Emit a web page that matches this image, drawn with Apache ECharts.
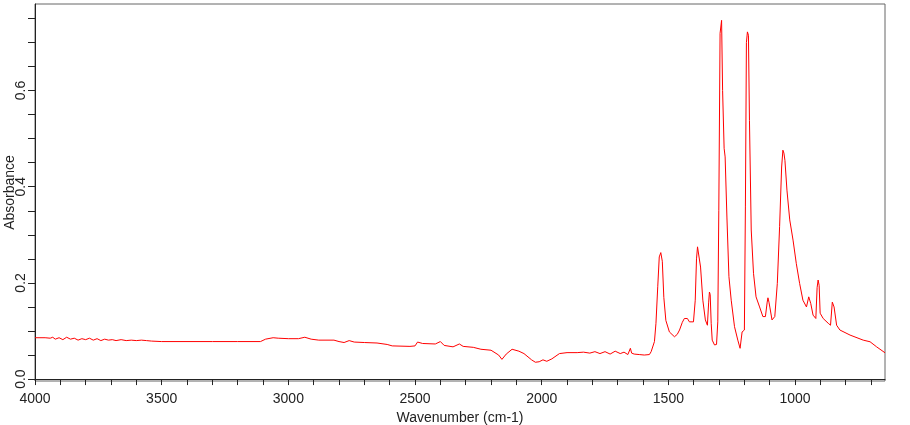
<!DOCTYPE html>
<html lang="en" style="height: 100%">
<head>
    <meta charset="UTF-8">
    <title>Absorbance spectrum</title>
    <script src="https://cdn.jsdelivr.net/npm/echarts@6/dist/echarts.min.js"></script>
</head>
<body style="height: 100%; margin: 0">
<div id="main" style="width: 910px; height: 425px"></div>
<script>
    // wavenumber (cm-1) and absorbance
    var wavenumber = [
        4000, 3960, 3940, 3930, 3920, 3905, 3890, 3875, 3860, 3845, 3830, 3815, 3800, 3785, 3770, 3755,
        3740, 3725, 3710, 3695, 3680, 3660, 3640, 3620, 3600, 3580, 3560, 3540, 3500, 3400, 3300, 3200,
        3110, 3090, 3060, 3040, 3000, 2960, 2935, 2910, 2880, 2820, 2800, 2780, 2760, 2740, 2700, 2650,
        2610, 2590, 2520, 2500, 2490, 2470, 2420, 2400, 2385, 2350, 2325, 2310, 2270, 2240, 2200, 2170,
        2157, 2140, 2117, 2090, 2070, 2040, 2025, 2010, 1995, 1980, 1960, 1930, 1900, 1860, 1835, 1810,
        1790, 1770, 1750, 1730, 1710, 1690, 1675, 1660, 1650, 1645, 1635, 1615, 1595, 1575, 1568, 1555,
        1549, 1542, 1536, 1530, 1524, 1518, 1510, 1496, 1476, 1465, 1456, 1445, 1437, 1425, 1417, 1401,
        1394, 1389, 1385, 1380, 1373, 1364, 1354, 1346, 1341, 1338, 1335, 1331, 1327, 1318, 1310, 1305,
        1301, 1296, 1290, 1286, 1280, 1276, 1269, 1261, 1252, 1239, 1226, 1217, 1209, 1200, 1196, 1192,
        1188, 1184, 1180, 1173, 1164, 1154, 1140, 1127, 1117, 1110, 1107, 1103, 1099, 1091, 1080, 1070,
        1061, 1053, 1048, 1044, 1040, 1032, 1021, 1008, 995, 982, 969, 955, 946, 938, 929, 918,
        913, 909, 905, 901, 889, 869, 860, 853, 850, 846, 836, 823, 783, 731, 704, 678,
        645
    ];
    var absorbance = [
        0.086, 0.086, 0.085, 0.087, 0.083, 0.086, 0.082, 0.087, 0.083, 0.085, 0.081, 0.084, 0.082, 0.085, 0.081, 0.084,
        0.080, 0.083, 0.081, 0.082, 0.080, 0.082, 0.080, 0.081, 0.080, 0.081, 0.080, 0.079, 0.078, 0.078, 0.078, 0.078,
        0.078, 0.083, 0.086, 0.085, 0.084, 0.084, 0.087, 0.083, 0.081, 0.081, 0.078, 0.076, 0.080, 0.077, 0.076, 0.075,
        0.072, 0.069, 0.068, 0.069, 0.077, 0.074, 0.073, 0.078, 0.070, 0.067, 0.073, 0.068, 0.066, 0.062, 0.060, 0.050,
        0.041, 0.052, 0.062, 0.058, 0.053, 0.040, 0.035, 0.036, 0.040, 0.037, 0.042, 0.053, 0.055, 0.055, 0.056, 0.054,
        0.057, 0.053, 0.057, 0.052, 0.058, 0.053, 0.056, 0.051, 0.064, 0.054, 0.052, 0.051, 0.050, 0.051, 0.057, 0.078,
        0.116, 0.192, 0.254, 0.263, 0.245, 0.170, 0.122, 0.098, 0.088, 0.093, 0.102, 0.118, 0.126, 0.126, 0.119, 0.119,
        0.164, 0.250, 0.275, 0.274, 0.233, 0.164, 0.123, 0.112, 0.160, 0.181, 0.176, 0.116, 0.081, 0.071, 0.072, 0.119,
        0.351, 0.719, 0.746, 0.600, 0.480, 0.462, 0.337, 0.213, 0.164, 0.109, 0.081, 0.064, 0.098, 0.102, 0.358, 0.700,
        0.722, 0.715, 0.538, 0.310, 0.220, 0.171, 0.150, 0.130, 0.130, 0.160, 0.169, 0.160, 0.148, 0.123, 0.130, 0.199,
        0.317, 0.441, 0.476, 0.470, 0.455, 0.393, 0.331, 0.289, 0.240, 0.199, 0.164, 0.150, 0.171, 0.157, 0.133, 0.126,
        0.190, 0.206, 0.195, 0.137, 0.126, 0.116, 0.112, 0.160, 0.164, 0.150, 0.112, 0.102, 0.0915, 0.081, 0.0776, 0.067,
        0.0547
    ];
    var xTicks = [];
    for (var t = 700; t <= 4000; t += 100) xTicks.push(t);
    var xLabels = [1000, 1500, 2000, 2500, 3000, 3500, 4000];
    var yTicks = [0, 0.05, 0.1, 0.15, 0.2, 0.25, 0.3, 0.35, 0.4, 0.45, 0.5, 0.55, 0.6, 0.65, 0.7, 0.75];
    var yLabels = [0, 0.2, 0.4, 0.6];

    var points = wavenumber.map(function (w, i) { return [w, absorbance[i]]; });
    var font = 'Liberation Sans, Arial, sans-serif';

    var option = {
        animation: false,
        grid: {
            left: 35, right: 25, top: 4, bottom: 44,
            containLabel: false, outerBoundsMode: 'none',
            show: true, borderColor: '#666', borderWidth: 1, backgroundColor: '#fff'
        },
        xAxis: {
            type: 'value',
            inverse: true,
            min: 645,
            max: 4000,
            name: 'Wavenumber (cm-1)',
            nameLocation: 'middle',
            nameGap: 30,
            nameMoveOverlap: false,
            nameTextStyle: {color: '#222', fontSize: 14, fontFamily: font},
            axisLine: {lineStyle: {color: '#222'}},
            axisTick: {customValues: xTicks, length: 6, lineStyle: {color: '#222'}},
            axisLabel: {
                customValues: xLabels, color: '#222', fontSize: 14, fontFamily: font, margin: 11,
                formatter: function (v) { return String(v); }
            },
            splitLine: {show: false}
        },
        yAxis: {
            type: 'value',
            min: -0.004,
            max: 0.78,
            name: 'Absorbance',
            nameLocation: 'middle',
            nameGap: 18,
            nameMoveOverlap: false,
            nameTextStyle: {color: '#222', fontSize: 14, fontFamily: font},
            axisLine: {show: true, lineStyle: {color: '#222'}},
            axisTick: {show: true, customValues: yTicks, length: 7, lineStyle: {color: '#222'}},
            axisLabel: {
                customValues: yLabels, color: '#222', fontSize: 14, fontFamily: font, rotate: 90, margin: 7,
                formatter: function (v) { return v.toFixed(1); }
            },
            splitLine: {show: false}
        },
        series: [{
            type: 'line',
            data: points,
            showSymbol: false,
            lineStyle: {color: '#ff0000', width: 1},
            itemStyle: {color: '#ff0000'}
        }]
    };
    var myChart = echarts.init(document.getElementById('main'));
    myChart.setOption(option);
</script>
</body>
</html>
